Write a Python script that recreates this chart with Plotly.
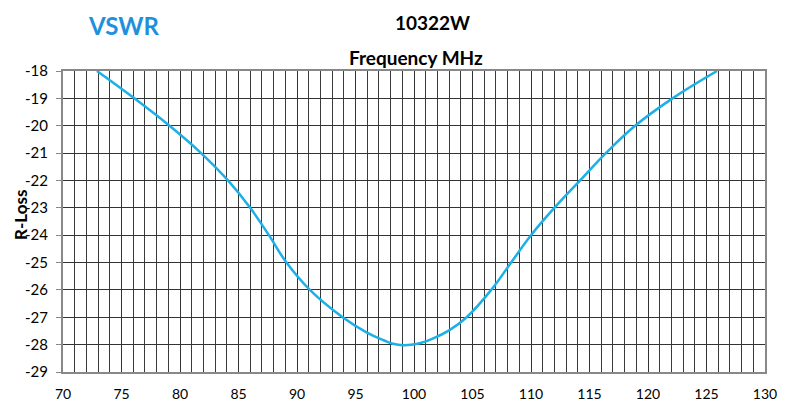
import plotly.graph_objects as go

freq = [72.9, 76.1, 79.1, 81.8, 84.1, 86.0, 87.6, 89.1, 91.1, 93.9, 95.9, 97.4, 98.2, 99.1,
        100.3, 101.6, 103.0, 104.5, 106.6, 108.3, 110.0, 112.0, 114.2, 116.4, 118.9, 122.1, 125.9]
rloss = [-18, -19, -20, -21, -22, -23, -24, -25, -26, -27, -27.54, -27.84, -27.97, -28.02,
         -27.97, -27.78, -27.48, -27, -26, -25, -24, -23, -22, -21, -20, -19, -18]
x_ticks = list(range(70, 131, 5))
y_ticks = list(range(-29, -17, 1))

OFF = 8  # page body margin
W, H = 793 - OFF, 404 - OFF
L, R, T, B = 55.3, 28, 62.7, 32.3
pw = W - L - R
ph = H - T - B
FONT = "Lato"


def px(ax):
    return (ax - OFF - L) / pw


def py(ay):
    return 1 - (ay - OFF - T) / ph


fig = go.Figure()
fig.add_trace(go.Scatter(x=freq, y=rloss, mode="lines",
                         line=dict(color="#1BB0E8", width=2.5, shape="spline", smoothing=1.2),
                         hoverinfo="skip", showlegend=False))

fig.update_layout(
    width=W, height=H, margin=dict(l=L, r=R, t=T, b=B, autoexpand=False),
    paper_bgcolor="white", plot_bgcolor="white",
    font=dict(family=FONT, size=15, color="black"),
    xaxis=dict(range=[70, 130], tickvals=x_ticks, ticktext=[str(v) for v in x_ticks],
               showgrid=True, gridcolor="#333", gridwidth=1,
               minor=dict(dtick=1, showgrid=True, gridcolor="#3a3a3a", gridwidth=1),
               showline=True, linecolor="#888", linewidth=2, mirror=True,
               ticks="", ticklabelstandoff=8, zeroline=False, tickfont=dict(size=14)),
    yaxis=dict(range=[-29, -18], tickvals=y_ticks, ticktext=[str(v) for v in y_ticks],
               showgrid=True, gridcolor="#333", gridwidth=1,
               showline=True, linecolor="#888", linewidth=2, mirror=True,
               ticks="outside", ticklen=5, tickcolor="#888", zeroline=False,
               ticklabelstandoff=5, tickfont=dict(size=15)),
    annotations=[
        dict(text="<b>VSWR</b>", xref="paper", yref="paper", x=px(124), y=py(OFF + 1),
             showarrow=False, font=dict(size=24, color="#1E90DC", family=FONT), xanchor="center", yanchor="top"),
        dict(text="<b>10322W</b>", xref="paper", yref="paper", x=px(433), y=py(22),
             showarrow=False, font=dict(size=19, color="black", family=FONT), xanchor="center", yanchor="middle"),
        dict(text="<b>Frequency MHz</b>", xref="paper", yref="paper", x=px(416), y=py(57),
             showarrow=False, font=dict(size=19, color="black", family=FONT), xanchor="center", yanchor="middle"),
        dict(text="<b>R-Loss</b>", xref="paper", yref="paper", x=px(21), y=py(215),
             showarrow=False, textangle=-90, font=dict(size=17, color="black", family=FONT),
             xanchor="center", yanchor="middle"),
    ],
)

fig.write_html("out.html")
